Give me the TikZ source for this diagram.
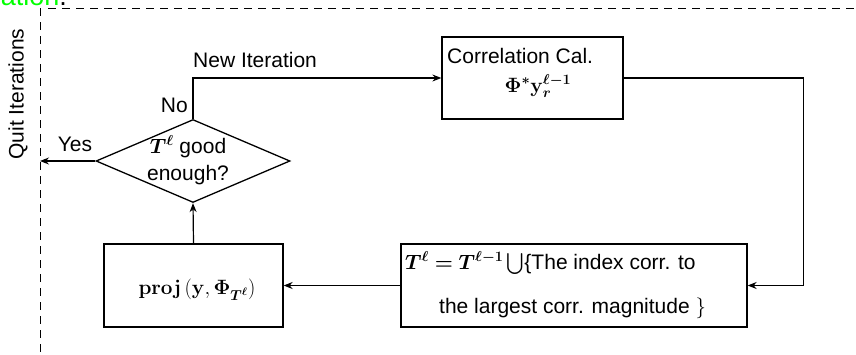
\documentclass[tikz,border=0pt]{standalone}
\usepackage{amsmath,amssymb,bm}
\usepackage[no-math]{fontspec}
\setmainfont{Liberation Sans}
\usetikzlibrary{arrows.meta,shapes.geometric}
\begin{document}
\begin{tikzpicture}[x=1pt,y=-1pt,
  txt/.style={inner sep=0pt,font=\fontsize{21}{27}\selectfont},
  boxnode/.style={draw,line width=1.3pt,inner sep=0pt,font=\fontsize{21}{27}\selectfont},
  dia/.style={draw,diamond,line width=1.3pt,inner sep=0pt,minimum width=194pt,minimum height=83pt},
  conn/.style={line width=1.2pt},
  arr/.style={conn,-{Stealth[length=9pt,width=7pt,inset=3pt]}},
  frame/.style={line width=1pt,dash pattern=on 8pt off 6pt}]
\useasboundingbox (0,0) rectangle (856,354);
% cropped caption fragment
\begin{scope}
\clip (0,0) rectangle (856,354);
\node[txt,anchor=base east,font=\fontsize{27}{30}\selectfont] (cap) at (67,5) {\textcolor{green}{ration}.};
\end{scope}
% dashed frame
\coordinate (ftl) at (48,8);
\coordinate (ftr) at (856,8);
\coordinate (fvt) at (40,8);
\coordinate (fvb) at (40,354);
\draw[frame] (ftl) -- (ftr);
\draw[frame] (fvt) -- (fvb);
\node[txt,rotate=90] (quit) at (18,94) {Quit Iterations};
\coordinate (quitpt) at (40,161);
% nodes
\node[dia] (dec) at (193,161) {};
\node[txt,align=center] (dect) at (188,160) {$\bm{T^{\ell}}$ good\\enough?};
\node[boxnode,minimum width=181pt,minimum height=82pt] (corr) at (532.5,78) {};
\node[txt,anchor=base west] (corrt) at (447,63) {Correlation Cal.};
\node[txt,anchor=base] (corrf) at (538,92) {$\bm{\Phi^{*}\mathbf{y}_{r}^{\ell-1}}$};
\node[boxnode,minimum width=346pt,minimum height=83pt] (upd) at (574,285.5) {};
\node[txt,anchor=base west] (updt1) at (405,269) {$\bm{T^{\ell}=T^{\ell-1}}\bigcup$\{The index corr. to};
\node[txt,anchor=base west] (updt2) at (439,313) {the largest corr. magnitude $\}$};
\node[boxnode,minimum width=179pt,minimum height=83pt] (proj) at (193.5,285.5) {};
\node[txt] (projt) at (197,290) {$\mathbf{proj}\left(\mathbf{y},\bm{\Phi_{T^{\ell}}}\right)$};
% connectors
\draw[arr] (dec.north) |- (corr.west);
\node[txt,anchor=base west] (newit) at (193,67) {New Iteration};
\node[txt,anchor=base east] (no) at (188,112) {No};
\draw[arr] (corr.east) -- ++(180,0) |- (upd.east);
\draw[arr] (upd.west) -- (proj.east);
\draw[arr] (proj.north) -- (dec.south);
\draw[arr] (dec.west) -- (quitpt);
\node[txt,anchor=base] (yes) at (75,151) {Yes};
\end{tikzpicture}
\end{document}
